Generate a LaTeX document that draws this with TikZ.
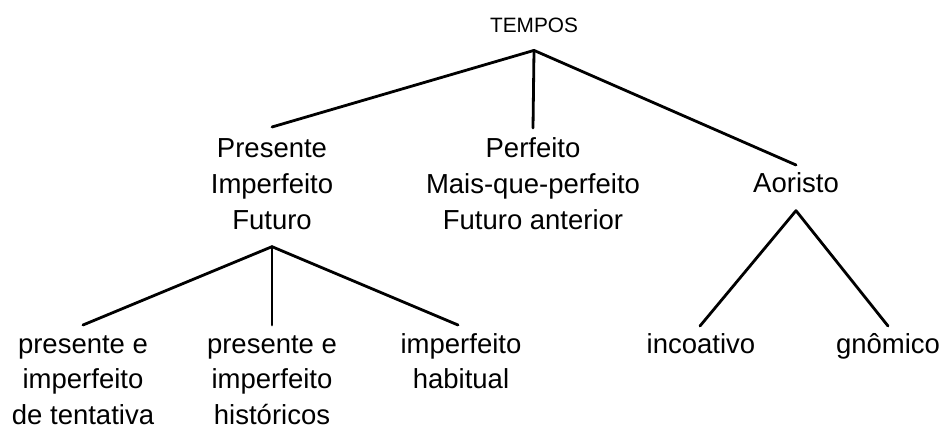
\documentclass[tikz,border=0pt]{standalone}
\usepackage{fontspec}
\setmainfont{Liberation Sans}
\newcommand\tstrut{\rule{0pt}{22pt}}
\begin{document}
\begin{tikzpicture}[x=1pt,y=-1pt,
  lbl/.style={font=\fontsize{27.5}{36}\selectfont, align=center, inner sep=0pt, anchor=north},
  lowlbl/.style={lbl, font=\fontsize{27.5}{35.5}\selectfont},
  small/.style={font=\fontsize{20.8}{24}\selectfont, inner sep=0pt, anchor=base},
  edge/.style={line width=2.8pt, line cap=round}]
\useasboundingbox[fill=white] (0,0) rectangle (942,430);
\node[small] (tempos) at (534,33) {TEMPOS};
\node[lbl] (pres) at (272,135) {\tstrut Presente\\Imperfeito\\Futuro};
\node[lbl] (perf) at (533,135) {\tstrut Perfeito\\Mais-que-perfeito\\Futuro anterior};
\node[lbl] (aor) at (796,170) {\tstrut Aoristo};
\node[lowlbl] (c1) at (83,331) {\tstrut presente e\\imperfeito\\de tentativa};
\node[lowlbl] (c2) at (272,331) {\tstrut presente e\\imperfeito\\históricos};
\node[lowlbl] (c3) at (461,331) {\tstrut imperfeito\\habitual};
\node[lowlbl] (inc) at (701,331) {\tstrut incoativo};
\node[lowlbl] (gno) at (888,331) {\tstrut gnômico};
\coordinate (ta) at ([yshift=-17pt]tempos.south);
\coordinate (pa) at ([yshift=-17pt]pres.south);
\coordinate (aa) at ([yshift=-18pt]aor.south);
\draw[edge] (ta) -- ([yshift=8pt]pres.north);
\draw[edge] (ta) -- ([yshift=7pt]perf.north);
\draw[edge] (ta) -- ([yshift=5pt]aor.north);
\draw[edge] (pa) -- ([yshift=6pt]c1.north);
\draw[edge] (pa) -- ([yshift=6pt]c2.north);
\draw[edge] (pa) -- ([shift={(-3pt,6pt)}]c3.north);
\draw[edge] (aa) -- ([shift={(-1pt,5pt)}]inc.north);
\draw[edge] (aa) -- ([yshift=5pt]gno.north);
\end{tikzpicture}
\end{document}
